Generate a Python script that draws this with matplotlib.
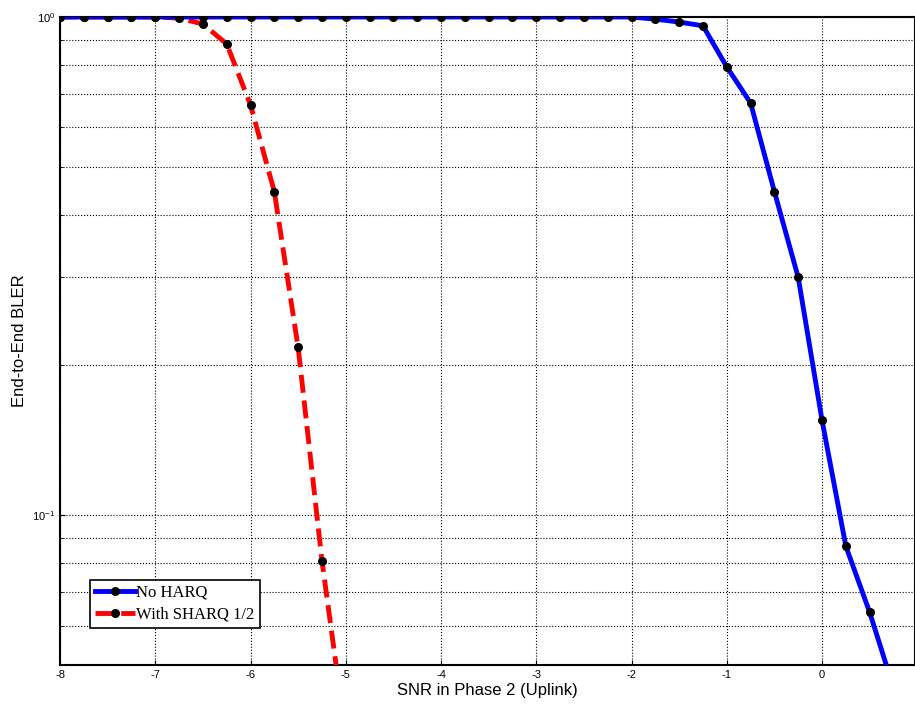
import matplotlib
matplotlib.use("Agg")
import matplotlib.pyplot as plt
from matplotlib.ticker import LogLocator, NullFormatter

plt.rcParams["font.family"] = ["Liberation Sans", "DejaVu Sans"]
plt.rcParams["axes.unicode_minus"] = False

# Data
snr_blue = [-8, -7.75, -7.5, -7.25, -7, -6.75, -6.5, -6.25, -6, -5.75, -5.5, -5.25, -5,
            -4.75, -4.5, -4.25, -4, -3.75, -3.5, -3.25, -3, -2.75, -2.5, -2.25, -2,
            -1.75, -1.5, -1.25, -1, -0.75, -0.5, -0.25, 0, 0.25, 0.5, 0.75]
bler_blue = [1, 1, 1, 1, 1, 1, 1, 1, 1, 1, 1, 1, 1,
             1, 1, 1, 1, 1, 1, 1, 1, 1, 1, 1, 1,
             0.99, 0.977, 0.96, 0.794, 0.672, 0.446, 0.30, 0.155, 0.0866, 0.0638, 0.045]
snr_red = [-8, -7.75, -7.5, -7.25, -7, -6.75, -6.5, -6.25, -6, -5.75, -5.5, -5.25, -5]
bler_red = [1, 1, 1, 1, 1, 0.995, 0.968, 0.883, 0.666, 0.446, 0.217, 0.081, 0.036]

fig = plt.figure(figsize=(9.15, 7.08), dpi=100)
ax = fig.add_axes([60 / 915, 1 - 665 / 708, 855 / 915, 648 / 708])

ax.semilogy(snr_red, bler_red, color="red", lw=3.5, ls="--", marker="o", ms=5.5,
            mfc="black", mec="black", label="With SHARQ 1/2", zorder=3)
ax.semilogy(snr_blue, bler_blue, color="blue", lw=3.5, marker="o", ms=5.5,
            mfc="black", mec="black", label="No HARQ", zorder=3)

ax.set_xlim(-8, 0.976)
ax.set_ylim(0.05, 1)
ax.set_xticks(range(-8, 1))
ax.set_yticks([0.1, 1])
ax.set_yticklabels([r"10$^{\mathdefault{-1}}$", r"10$^{\mathdefault{0}}$"])
ax.yaxis.set_minor_locator(LogLocator(base=10, subs=range(2, 10)))
ax.yaxis.set_minor_formatter(NullFormatter())
ax.grid(True, which="major", color="black", ls=":", lw=0.8)
ax.grid(True, which="minor", axis="y", color="black", ls=":", lw=0.8)
ax.tick_params(labelsize=8, direction="in", which="both")
for s in ax.spines.values():
    s.set_linewidth(1.5)

ax.set_xlabel("SNR in Phase 2 (Uplink)", fontsize=12, labelpad=2)
ax.set_ylabel("End-to-End BLER", fontsize=12)

h, l = ax.get_legend_handles_labels()
leg = ax.legend(h[::-1], l[::-1], loc="lower left", bbox_to_anchor=(0.025, 0.045), fancybox=False,
                edgecolor="black", framealpha=1, prop={"family": "Liberation Serif", "size": 12},
                handlelength=2.4, borderpad=0.3, labelspacing=0.35, handletextpad=0.1)
leg.get_frame().set_linewidth(1.2)

fig.savefig("out.png", dpi=100)
